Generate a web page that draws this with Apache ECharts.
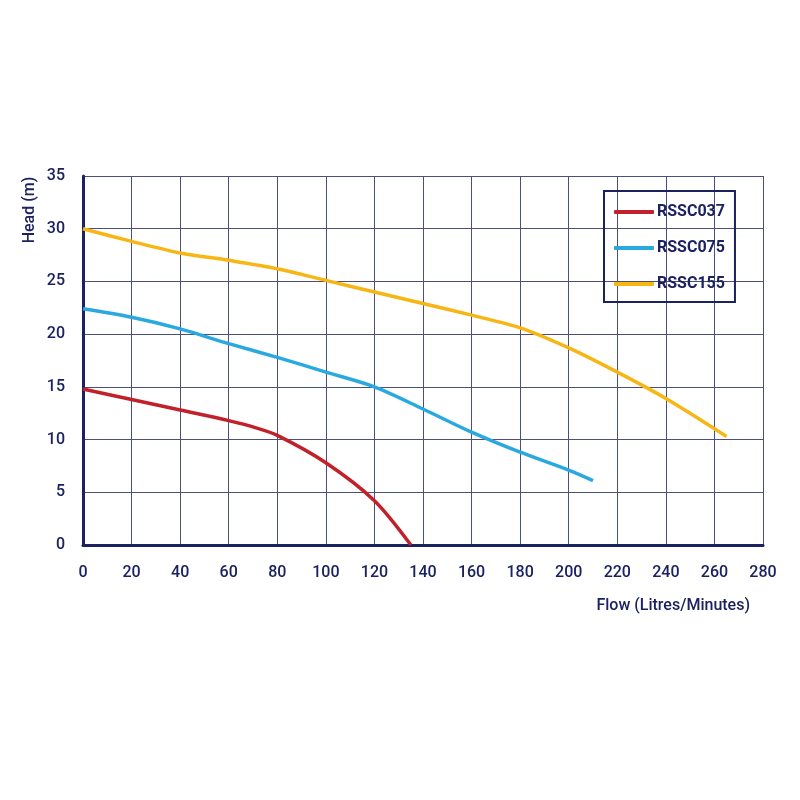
<!DOCTYPE html>
<html>
<head>
<meta charset="utf-8">
<script src="https://cdn.jsdelivr.net/npm/echarts@6/dist/echarts.min.js"></script>
<style>
  html, body { margin: 0; padding: 0; background: #fff; }
  #chart { width: 800px; height: 800px; }
</style>
</head>
<body>
<div id="chart"></div>
<script>
// flow (L/min) vs head (m)
const flow037 = [0, 20, 40, 60, 70, 80, 100, 120, 135];
const head037 = [14.8, 13.8, 12.8, 11.8, 11.2, 10.4, 7.8, 4.2, 0];
const flow075 = [0, 20, 40, 60, 80, 100, 120, 140, 160, 180, 200, 210];
const head075 = [22.4, 21.6, 20.5, 19.1, 17.8, 16.4, 15.0, 12.9, 10.7, 8.8, 7.1, 6.1];
const flow155 = [0, 20, 40, 60, 80, 100, 120, 140, 160, 180, 200, 220, 240, 265];
const head155 = [30.0, 28.8, 27.7, 27.0, 26.2, 25.1, 24.0, 22.9, 21.8, 20.6, 18.7, 16.4, 13.9, 10.3];
const seriesNames = ['RSSC037', 'RSSC075', 'RSSC155'];
const seriesColors = ['#c1212b', '#2aa9e0', '#f7b614'];

const navy = '#1c2160';
const pairs = (xs, ys) => xs.map((x, i) => [x, ys[i]]);
const curves = [pairs(flow037, head037), pairs(flow075, head075), pairs(flow155, head155)];

const chart = echarts.init(document.getElementById('chart'));
chart.setOption({
  animation: false,
  textStyle: { fontFamily: 'Roboto', color: navy },
  grid: { left: 83, right: 37, top: 176, bottom: 255 },
  legend: {
    orient: 'vertical',
    left: 604,
    top: 191,
    padding: [13, 10, 10, 10],
    itemWidth: 40,
    itemHeight: 4,
    itemGap: 20,
    icon: 'roundRect',
    borderColor: navy,
    borderWidth: 2,
    data: seriesNames,
    textStyle: { fontSize: 16, fontWeight: 'bold', color: navy, padding: [0, 0, 0, -2] }
  },
  xAxis: {
    type: 'value',
    min: 0, max: 280, interval: 20,
    name: 'Flow (Litres/Minutes)',
    nameLocation: 'end',
    nameGap: -13,
    nameTextStyle: { fontSize: 16, fontWeight: 500, color: navy, align: 'right', verticalAlign: 'top', padding: [53, 0, 0, 0] },
    axisLine: { lineStyle: { color: navy, width: 3 } },
    axisTick: { show: false },
    axisLabel: { fontSize: 16, fontWeight: 500, color: navy, margin: 20 },
    splitLine: { lineStyle: { color: '#4b4f7c', width: 1 } }
  },
  yAxis: {
    type: 'value',
    min: 0, max: 35, interval: 5,
    axisLine: { show: true, lineStyle: { color: navy, width: 3 } },
    axisTick: { show: false },
    axisLabel: { fontSize: 16, fontWeight: 500, color: navy, margin: 18 },
    splitLine: { lineStyle: { color: '#4b4f7c', width: 1 } }
  },
  graphic: [{
    type: 'text',
    x: 30, y: 210,
    rotation: Math.PI / 2,
    style: { text: 'Head (m)', fontFamily: 'Roboto', fontSize: 16, fontWeight: 500, fill: navy, align: 'center', verticalAlign: 'middle' }
  }],
  series: curves.map((data, i) => ({
    name: seriesNames[i],
    type: 'line',
    data: data,
    smooth: 0.3,
    showSymbol: false,
    color: seriesColors[i],
    lineStyle: { width: 3.5, color: seriesColors[i] }
  }))
});
</script>
</body>
</html>
